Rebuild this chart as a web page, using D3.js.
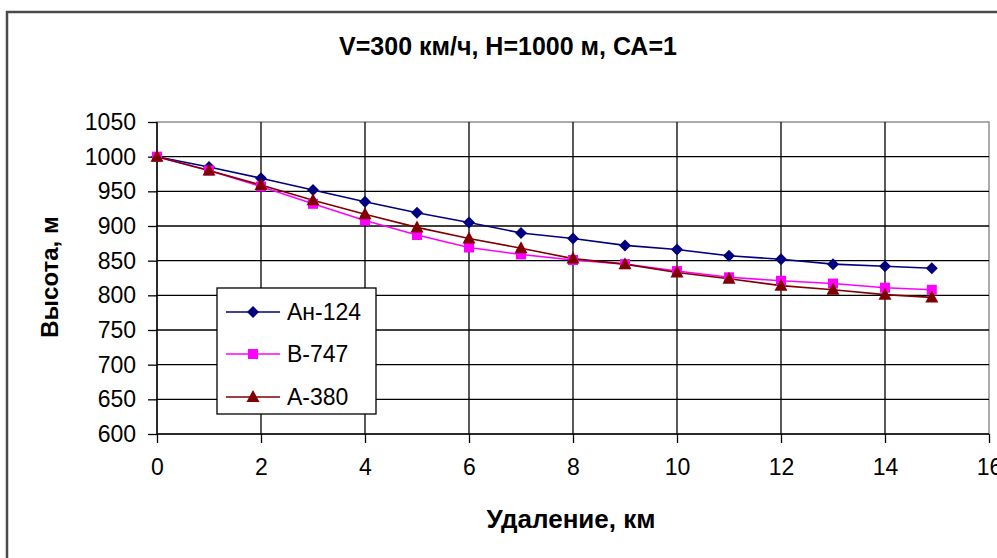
<!DOCTYPE html>
<html>
<head>
<meta charset="utf-8">
<script src="https://cdn.jsdelivr.net/npm/d3@7"></script>
<style>
  html, body { margin: 0; padding: 0; background: #fff; }
  svg { display: block; font-family: "Liberation Sans", Arial, sans-serif; }
</style>
</head>
<body>
<svg id="chart" width="997" height="558"></svg>
<script>
// ---- data ----
const distances = [0, 1, 2, 3, 4, 5, 6, 7, 8, 9, 10, 11, 12, 13, 14, 14.9];
const an124 = [1000, 985, 969, 952, 935, 919, 905, 890, 882, 872, 866, 857, 852, 845, 842, 839];
const b747  = [1000, 980, 957, 932, 908, 887, 869, 859, 851, 845, 835, 826, 821, 817, 811, 808];
const a380  = [1000, 980, 959, 937, 917, 898, 882, 868, 853, 845, 833, 824, 814, 808, 801, 797];
const seriesNames = ["Ан-124", "B-747", "A-380"];
const xTicks = [0, 2, 4, 6, 8, 10, 12, 14, 16];
const yTicks = [600, 650, 700, 750, 800, 850, 900, 950, 1000, 1050];
const titleText = "V=300 км/ч, H=1000 м, СА=1";
const xTitle = "Удаление, км";
const yTitle = "Высота, м";

const series = [
  { name: seriesNames[0], values: an124, color: "#000080", marker: "diamond" },
  { name: seriesNames[1], values: b747,  color: "#FF00FF", marker: "square" },
  { name: seriesNames[2], values: a380,  color: "#800000", marker: "triangle" }
];

const svg = d3.select("#chart");
const plot = { left: 157, right: 989, top: 122, bottom: 434 };

const x = d3.scaleLinear().domain([0, 16]).range([plot.left, plot.right]);
const y = d3.scaleLinear().domain([600, 1050]).range([plot.bottom, plot.top]);

// outer chart border
svg.append("rect")
  .attr("x", 7).attr("y", 12).attr("width", 1100).attr("height", 700)
  .attr("fill", "#fff").attr("stroke", "#4a4a4a").attr("stroke-width", 2.5);

// title
svg.append("text")
  .attr("x", 508).attr("y", 55)
  .attr("text-anchor", "middle")
  .attr("font-size", 25).attr("font-weight", "bold")
  .attr("fill", "#000")
  .text(titleText);

// plot border (gray top/right)
svg.append("rect")
  .attr("x", plot.left).attr("y", plot.top)
  .attr("width", plot.right - plot.left).attr("height", plot.bottom - plot.top)
  .attr("fill", "#fff").attr("stroke", "#909090").attr("stroke-width", 1.5);

// grid
const grid = svg.append("g");
grid.selectAll("line.h").data(yTicks.filter(d => d > 600 && d < 1050)).enter().append("line")
  .attr("x1", plot.left).attr("x2", plot.right)
  .attr("y1", d => y(d)).attr("y2", d => y(d))
  .attr("stroke", "#000").attr("stroke-width", 1.3);
grid.selectAll("line.v").data(xTicks.filter(d => d > 0 && d < 16)).enter().append("line")
  .attr("y1", plot.top).attr("y2", plot.bottom)
  .attr("x1", d => x(d)).attr("x2", d => x(d))
  .attr("stroke", "#000").attr("stroke-width", 1.3);

// axes
const xAxis = d3.axisBottom(x).tickValues(xTicks).tickSize(9).tickPadding(16).tickFormat(d3.format("d"));
const yAxis = d3.axisLeft(y).tickValues(yTicks).tickSize(9).tickPadding(12).tickFormat(d3.format("d"));

const gx = svg.append("g").attr("transform", `translate(0,${plot.bottom})`).call(xAxis);
const gy = svg.append("g").attr("transform", `translate(${plot.left},0)`).call(yAxis);
[gx, gy].forEach(g => {
  g.select(".domain").attr("stroke", "#000").attr("stroke-width", 1.5);
  g.selectAll(".tick line").attr("stroke", "#000").attr("stroke-width", 1.3);
  g.selectAll(".tick text").attr("font-size", 23).attr("fill", "#000")
    .attr("font-family", "'Liberation Sans', Arial, sans-serif");
});
gx.select(".domain").attr("d", `M${plot.left},0H${plot.right}`);
gy.select(".domain").attr("d", `M0,${plot.top}V${plot.bottom}`);

// axis titles
svg.append("text")
  .attr("x", 571).attr("y", 528)
  .attr("text-anchor", "middle")
  .attr("font-size", 26).attr("font-weight", "bold")
  .text(xTitle);
svg.append("text")
  .attr("transform", "translate(58,277) rotate(-90)")
  .attr("text-anchor", "middle")
  .attr("font-size", 24).attr("font-weight", "bold")
  .text(yTitle);

// marker shapes
function markerPath(type) {
  if (type === "diamond") return "M0,-6L6,0L0,6L-6,0Z";
  if (type === "square") return "M-5,-5H5V5H-5Z";
  return "M0,-7L6.5,5H-6.5Z";
}

// lines & markers
const line = d3.line().x((d, i) => x(distances[i])).y(d => y(d));
series.forEach(s => {
  svg.append("path")
    .attr("d", line(s.values))
    .attr("fill", "none").attr("stroke", s.color).attr("stroke-width", 1.6);
});
series.forEach(s => {
  svg.append("g").selectAll("path").data(s.values).enter().append("path")
    .attr("transform", (d, i) => `translate(${x(distances[i])},${y(d)})`)
    .attr("d", markerPath(s.marker))
    .attr("fill", s.color);
});

// legend
const lg = svg.append("g");
lg.append("rect")
  .attr("x", 217).attr("y", 288).attr("width", 159).attr("height", 126)
  .attr("fill", "#fff").attr("stroke", "#000").attr("stroke-width", 1.3);
const rowY = [312, 354, 397];
series.forEach((s, i) => {
  lg.append("line")
    .attr("x1", 226).attr("x2", 280).attr("y1", rowY[i]).attr("y2", rowY[i])
    .attr("stroke", s.color).attr("stroke-width", 1.6);
  lg.append("path")
    .attr("transform", `translate(253,${rowY[i]})`)
    .attr("d", markerPath(s.marker)).attr("fill", s.color);
  lg.append("text")
    .attr("x", 287).attr("y", rowY[i] + 8)
    .attr("font-size", 23).attr("fill", "#000")
    .text(s.name);
});
</script>
</body>
</html>
